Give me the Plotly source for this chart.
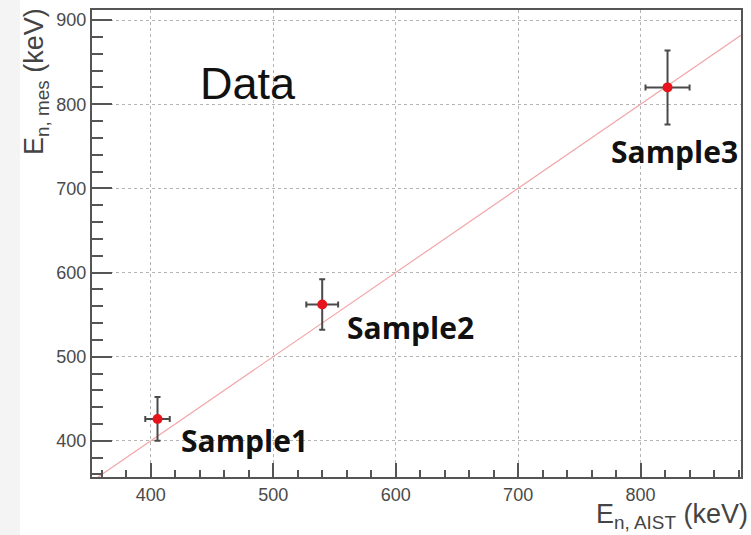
import plotly.graph_objects as go

# Measured neutron energies against the AIST reference energies (keV)
samples = ["Sample1", "Sample2", "Sample3"]
e_aist = [405.5, 540.0, 822.0]
e_aist_err = [10.0, 13.0, 18.0]
e_mes = [426.0, 562.0, 820.0]
e_mes_err = [26.0, 30.0, 44.0]

# Label anchor positions (data coordinates)
label_x = [423.0, 559.0, 774.0]
label_y = [400.0, 535.0, 744.0]

# Axis settings
x_range = [352, 882]
y_range = [357, 912]
x_ticks = [400, 500, 600, 700, 800]
y_ticks = [400, 500, 600, 700, 800, 900]

# Reference line y = x
ref_line = [340, 900]

fig = go.Figure()

fig.add_trace(go.Scatter(
    x=ref_line, y=ref_line, mode="lines",
    line=dict(color="#f2a6a6", width=1.2),
    hoverinfo="skip", showlegend=False,
))

fig.add_trace(go.Scatter(
    x=e_aist, y=e_mes, mode="markers",
    marker=dict(color="#e8141c", size=10),
    error_x=dict(type="data", array=e_aist_err, color="#4a4a4a", thickness=2, width=3),
    error_y=dict(type="data", array=e_mes_err, color="#4a4a4a", thickness=2, width=3),
    showlegend=False,
))

for name, lx, ly in zip(samples, label_x, label_y):
    fig.add_annotation(
        x=lx, y=ly, text="<b>" + name + "</b>", showarrow=False,
        xanchor="left", yanchor="middle",
        font=dict(family="Open Sans", size=30, color="#111111"),
    )

fig.add_annotation(
    x=479, y=825, text="Data", showarrow=False,
    xanchor="center", yanchor="middle",
    font=dict(family="Liberation Sans", size=45, color="#111111"),
)

# Axis titles
fig.add_annotation(
    xref="paper", yref="paper", x=-0.086, y=1.008,
    text="E<sub>n, mes</sub> (keV)", textangle=-90, showarrow=False,
    xanchor="center", yanchor="top",
    font=dict(family="Liberation Sans", size=27, color="#444444"),
)
fig.add_annotation(
    xref="paper", yref="paper", x=1.0135, y=-0.083,
    text="E<sub>n, AIST</sub> (keV)", showarrow=False,
    xanchor="right", yanchor="middle",
    font=dict(family="Liberation Sans", size=27, color="#444444"),
)

axis_common = dict(
    showline=True, linecolor="#555555", linewidth=2, mirror=True,
    showgrid=True, gridcolor="#b4b4b4", gridwidth=1, griddash="dot",
    zeroline=False, ticks="inside", tickcolor="#555555", tickwidth=2,
    tickfont=dict(family="Liberation Sans", size=18, color="#4a4a4a"),
)

fig.update_xaxes(
    range=x_range, tickvals=x_ticks, ticklen=14,
    minor=dict(dtick=20, tick0=0, ticks="inside", ticklen=7, tickcolor="#555555", tickwidth=2, showgrid=False),
    **axis_common,
)
fig.update_yaxes(
    range=y_range, tickvals=y_ticks, ticklen=20,
    minor=dict(dtick=20, tick0=0, ticks="inside", ticklen=11, tickcolor="#555555", tickwidth=2, showgrid=False),
    **axis_common,
)

# Light strip on the left edge of the page
fig.add_shape(
    type="rect", xref="paper", yref="paper",
    x0=(20 - 92) / 650, x1=(760 - 92) / 650, y0=-0.2, y1=1.1,
    fillcolor="white", line=dict(width=0), layer="below",
)

fig.update_layout(
    width=751, height=535,
    margin=dict(l=92, r=9, t=8, b=58),
    paper_bgcolor="#f4f4f4", plot_bgcolor="white",
    showlegend=False,
)

fig.write_html("out.html")
